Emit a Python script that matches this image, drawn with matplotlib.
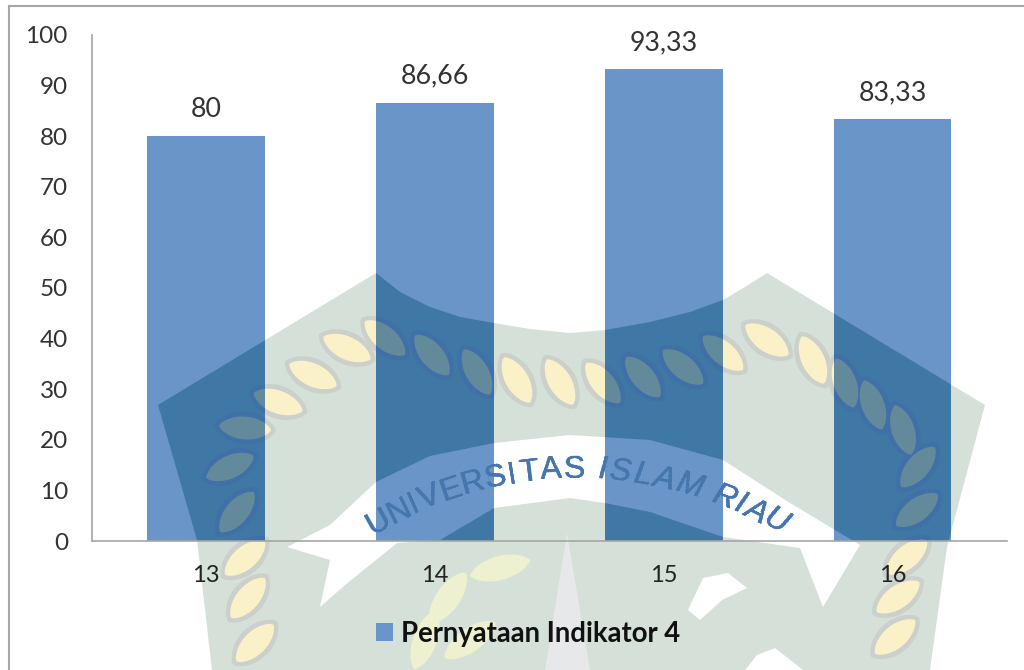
import numpy as np
import matplotlib
matplotlib.use("Agg")
import matplotlib.pyplot as plt
from matplotlib.patches import Polygon
from matplotlib.lines import Line2D

categories = ["13", "14", "15", "16"]
values = [80, 86.66, 93.33, 83.33]
value_labels = ["80", "86,66", "93,33", "83,33"]
yticks = list(range(0, 101, 10))
series_name = "Pernyataan Indikator 4"

W, H = 1024, 670
FONT = "Lato"
BAR = "#6A95C8"
GREY = "#A6A6A6"

# Background watermark geometry, in image pixels
shield = [(158,405),(376,273),(400,292),(430,307),(460,317),(494,323),(530,329),(570,333),(605,330),
          (650,322),(690,312),(723,300),(745,287),(767,273),
          (985,405),(947,547),(930,670),(212,670),(197,540)]
band = [(287,547),(330,525),(376,482),(430,456),(494,443),(570,435),(650,440),(723,460),
        (790,503),(860,545),(823,607),(800,548),(723,537),(650,512),(605,503),(570,498),
        (494,508),(440,540),(397,543),(345,585),(320,607),(330,560)]
spike = [(567,533),(590,670),(545,670)]
blobs = [[(703,578),(728,573),(747,588),(722,600),(700,620),(688,610)],
         [(757,655),(775,648),(803,670),(745,670)]]
leaves = [(237,512,-50),(230,467,-25),(245,428,5),(278,402,20),(313,375,25),(347,348,25),
          (385,338,40),(432,355,50),(477,372,60),(517,380,60),(560,382,60),(603,383,50),
          (643,377,50),(683,367,40),(723,353,40),(767,340,35),(813,360,65),(845,383,70),
          (873,405,70),(903,430,72),(918,467,-50),(917,510,-37),(907,557,-40),(898,597,-35),
          (895,637,-40),(245,558,-40),(248,598,-50),(255,643,-45)]
wheat = [(500,568,-15),(448,598,-55),(470,640,-35),(425,640,-70)]
word = "UNIVERSITAS ISLAM RIAU"

PALE = dict(shield="#D5E1D8", band="#FFFFFF", spike="#E6E8EA", blob="#FFFFFF",
            halo="#CBD0CB", leaf="#FBF1C8", wheat="#EEF1CF", text="#D2D5D8")
DARK = dict(shield="#3F78A4", band=BAR, spike="#5A8CC0", blob=BAR,
            halo="#3F70A8", leaf="#628A9B", wheat="#628A9B", text="#4676AE")


def lens(x, y, angle, length, width):
    t = np.linspace(0, 2 * np.pi, 41)
    u = length / 2 * np.cos(t)
    v = width / 2 * np.sin(t) * np.abs(np.sin(t)) ** 0.4
    a = np.radians(angle)
    return np.column_stack([x + u * np.cos(a) - v * np.sin(a), y + u * np.sin(a) + v * np.cos(a)])


def draw_watermark(ax, tr, pal, clip=None, z=1):
    items = [Polygon(shield, closed=True, fc=pal["shield"], ec="none")]
    for x, y, a in leaves:
        items.append(Polygon(lens(x, y, a, 62, 33), closed=True, fc=pal["halo"], ec="none"))
    for x, y, a in leaves:
        items.append(Polygon(lens(x, y, a, 52, 23), closed=True, fc=pal["leaf"], ec="none"))
    items.append(Polygon(band, closed=True, fc=pal["band"], ec="none"))
    for x, y, a in wheat:
        items.append(Polygon(lens(x, y, a, 62, 24), closed=True, fc=pal["wheat"], ec="none"))
    items.append(Polygon(spike, closed=True, fc=pal["spike"], ec="none"))
    for b in blobs:
        items.append(Polygon(b, closed=True, fc=pal["blob"], ec="none"))
    for p in items:
        p.set_transform(tr)
        p.set_zorder(z)
        ax.add_patch(p)
        if clip is not None:
            p.set_clip_path(clip)
    widths = [0.45 if c in "I " else 1.15 if c == "M" else 0.9 for c in word]
    pos = np.cumsum(widths) - np.array(widths) / 2
    angles = np.radians(-31) + (pos / np.sum(widths)) * np.radians(62)
    R, cx, cy = 404, 577, 874
    for i, (c, t) in enumerate(zip(word, angles)):
        x, y = cx + R * np.sin(t), cy - R * np.cos(t)
        txt = ax.text(x, y, c, transform=tr, rotation=-np.degrees(t), rotation_mode="anchor",
                      ha="center", va="center", fontsize=23,
                      fontstyle="italic" if i >= 12 else "normal",
                      family="Liberation Sans", color=pal["text"], zorder=z + 0.1)
        if clip is not None:
            txt.set_clip_path(clip)


fig = plt.figure(figsize=(W / 100, H / 100), dpi=100, facecolor="white")

bg = fig.add_axes([0, 0, 1, 1], zorder=0)
bg.set_xlim(0, W)
bg.set_ylim(H, 0)
bg.axis("off")
draw_watermark(bg, bg.transData, PALE)

# Frame
for xs, ys in [((8.5, 8.5), (5.5, H)), ((8.5, W), (5.5, 5.5))]:
    bg.add_line(Line2D(xs, ys, color=GREY, lw=1.5, zorder=3))

L, R_, T, B = 91.5, 1007, 35, 541
ax = fig.add_axes([L / W, 1 - B / H, (R_ - L) / W, (B - T) / H], zorder=1)
ax.patch.set_alpha(0)
x = np.arange(len(categories))
bars = ax.bar(x, values, width=0.515, color=BAR, zorder=2, label=series_name)
ax.set_xlim(-0.5, len(categories) - 0.5)
ax.set_ylim(0, 100)
ax.set_xticks(x, categories)
ax.set_yticks(yticks)
ax.tick_params(axis="y", length=0, pad=17, labelsize=17.5, labelcolor="#333333")
ax.tick_params(axis="x", length=0, pad=17, labelsize=17, labelcolor="#222222")
for l in ax.get_xticklabels() + ax.get_yticklabels():
    l.set_family(FONT)
for s in ("top", "right"):
    ax.spines[s].set_visible(False)
for s in ("left", "bottom"):
    ax.spines[s].set_color(GREY)
    ax.spines[s].set_linewidth(1.2)
    ax.spines[s].set_zorder(6)

for b in bars:
    draw_watermark(ax, bg.transData, DARK, clip=b, z=3)

for xi, v, lab in zip(x, values, value_labels):
    ax.annotate(lab, (xi, v), xytext=(0, 10), textcoords="offset points", ha="center", va="bottom",
                fontsize=19.3, family=FONT, color="#333333", zorder=7, annotation_clip=False)

leg = ax.legend(handles=[bars[0]], labels=[series_name], loc="center",
                bbox_to_anchor=(528 / W, 1 - 634 / H), bbox_transform=fig.transFigure,
                frameon=False, handlelength=0.62, handleheight=0.62, handletextpad=0.28,
                borderpad=0, prop=dict(family=FONT, weight="bold", size=19.8))
leg.get_texts()[0].set_color("#111111")

fig.savefig("out.png", dpi=100)
